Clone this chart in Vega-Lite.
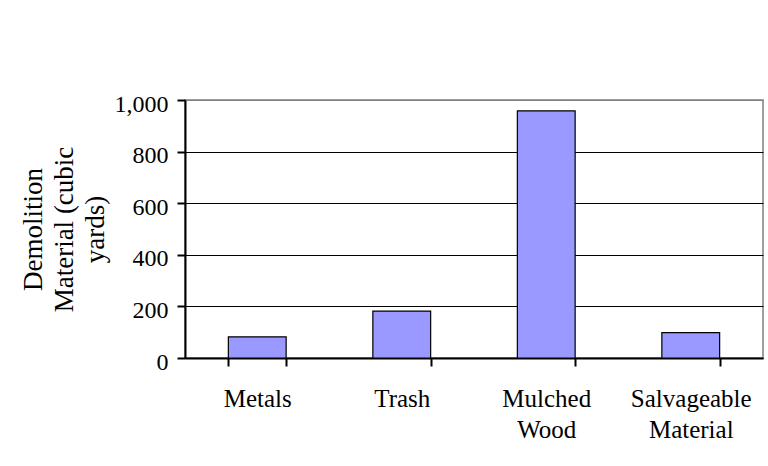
{
  "$schema": "https://vega.github.io/schema/vega-lite/v6.json",
  "autosize": "none",
  "width": 578,
  "height": 258,
  "padding": {"left": 185, "top": 100, "right": 5, "bottom": 108},
  "background": "white",
  "config": {
    "view": {"stroke": "#808080", "strokeWidth": 1.5},
    "font": "Liberation Serif"
  },
  "data": {
    "values": [
      {"material": "Metals", "volume": 82},
      {"material": "Trash", "volume": 182},
      {"material": "Mulched Wood", "volume": 958},
      {"material": "Salvageable Material", "volume": 98}
    ]
  },
  "mark": {"type": "bar", "fill": "#9999FF", "stroke": "black", "strokeWidth": 1.2},
  "encoding": {
    "x": {
      "field": "material",
      "type": "nominal",
      "sort": null,
      "scale": {"paddingInner": 0.6, "paddingOuter": 0.3},
      "axis": {
        "title": null,
        "labelAngle": 0,
        "labelExpr": "split(datum.label, ' ')",
        "labelFont": "Liberation Serif",
        "labelFontSize": 25,
        "labelColor": "black",
        "labelLineHeight": 31,
        "labelBaseline": "top",
        "labelPadding": 20,
        "tickBand": "extent",
        "tickSize": 8,
        "tickWidth": 2,
        "tickColor": "black",
        "domainColor": "black",
        "domainWidth": 2,
        "grid": false
      }
    },
    "y": {
      "field": "volume",
      "type": "quantitative",
      "scale": {"domain": [0, 1000], "nice": false},
      "axis": {
        "values": [0, 200, 400, 600, 800, 1000],
        "format": ",.0f",
        "title": ["Demolition", "Material (cubic", "yards)"],
        "titleFont": "Liberation Serif",
        "titleFontSize": 27,
        "titleFontWeight": "normal",
        "titleColor": "black",
        "titleLineHeight": 31,
        "titleAngle": -90,
        "titleAlign": "center",
        "titleBaseline": "alphabetic",
        "titleX": -144,
        "titleY": 129,
        "labelFont": "Liberation Serif",
        "labelFontSize": 24,
        "labelColor": "black",
        "labelPadding": 9,
        "labelBaseline": "middle",
        "labelOffset": 4,
        "tickSize": 8,
        "tickWidth": 2,
        "tickColor": "black",
        "domainColor": "black",
        "domainWidth": 2,
        "grid": true,
        "gridColor": {"condition": {"test": "datum.value === 1000", "value": "#808080"}, "value": "black"},
        "gridWidth": 1.2,
        "gridOpacity": 1
      }
    }
  }
}
